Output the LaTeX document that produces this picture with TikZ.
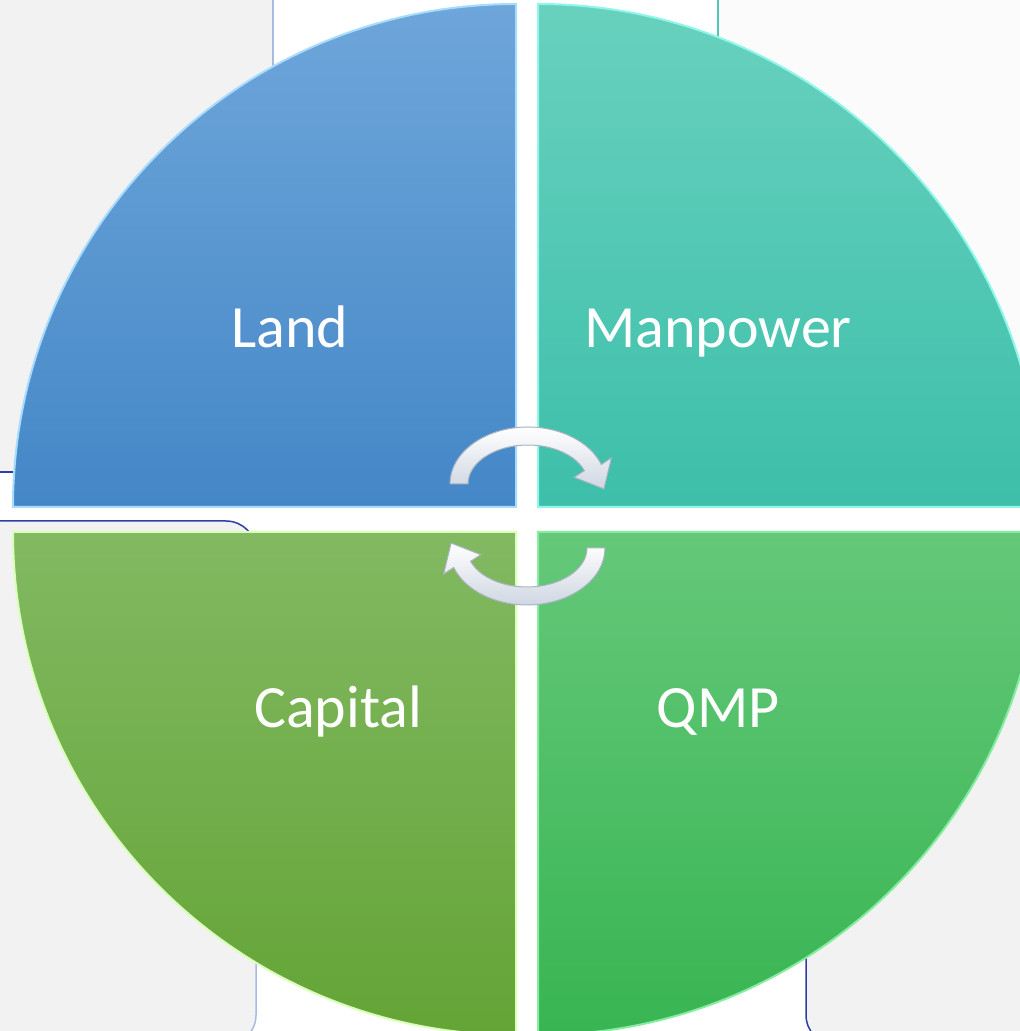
\documentclass[tikz,border=0pt]{standalone}
\usepackage{fontspec}
\setmainfont{Carlito}
\definecolor{paper}{HTML}{F2F2F2}
\definecolor{offwhite}{HTML}{FBFBFB}
\definecolor{navyline}{HTML}{2E3EA6}
\definecolor{paleline}{HTML}{A9BCE0}
\definecolor{tealline}{HTML}{4FC9B3}
\definecolor{landtop}{HTML}{6EA6DA}
\definecolor{landbot}{HTML}{4487C7}
\definecolor{landrim}{HTML}{A8DCFF}
\definecolor{mantop}{HTML}{68D1BE}
\definecolor{manbot}{HTML}{3DBFAA}
\definecolor{manrim}{HTML}{8FF7EA}
\definecolor{captop}{HTML}{82B962}
\definecolor{capbot}{HTML}{64A436}
\definecolor{caprim}{HTML}{D9FFB8}
\definecolor{qmptop}{HTML}{65C87A}
\definecolor{qmpbot}{HTML}{38B552}
\definecolor{qmprim}{HTML}{86ECA0}
\definecolor{arrowrim}{HTML}{A9B3C1}
\definecolor{arrowgrey}{HTML}{CFD7E2}
\tikzset{quarter/.style={line width=2pt},
  quartertext/.style={text=white, anchor=base, font=\fontsize{60}{72}\selectfont},
  edge/.style={line width=1.5pt},
  turnarrow/.pic={
    \shadedraw[top color=white, bottom color=arrowgrey, draw=arrowrim, line width=1pt]
      (0:78 and 57) arc[start angle=0, end angle=-160, x radius=78, y radius=57]
      -- (-83.4,-26.1) -- (-75.9,4.9) -- (-46.2,-6.7)
      -- (-160:60 and 39) arc[start angle=-160, end angle=0, x radius=60, y radius=39] -- cycle;
  }}
\begin{document}
\begin{tikzpicture}[x=1pt, y=1pt]
		\useasboundingbox (0,0) rectangle (1020,1031);
		\clip (0,0) rectangle (1020,1031);
		\fill[white] (0,0) rectangle (1020,1031);
		\fill[offwhite] (718,600) rectangle (1040,1045);
		\draw[edge, tealline] (718,1045) -- (718,900);
		\fill[paper] (-20,559) rectangle (273,1045);
		\draw[edge, paleline] (273,1045) -- (273,559);
		\draw[edge, navyline] (-20,559) -- (273,559);
		\fill[paper, rounded corners=30] (-20,510) -- (256,510) -- (256,-14) -- (-20,-14) -- cycle;
		\draw[edge, navyline] (-20,510) -- (226,510) arc[start angle=90, end angle=0, radius=30] -- (256,470);
		\draw[edge, paleline] (256,470) -- (256,16) arc[start angle=0, end angle=-90, radius=30];
		\fill[paper, rounded corners=30] (806,491) -- (1040,491) -- (1040,-14) -- (806,-14) -- cycle;
		\draw[edge, navyline] (806,491) -- (806,16) arc[start angle=180, end angle=270, radius=30];
		\shadedraw[quarter, top color=landtop, bottom color=landbot, draw=landrim]
			(516,524) -- (13,524) arc[start angle=180, end angle=90, radius=503] -- cycle;
		\shadedraw[quarter, top color=mantop, bottom color=manbot, draw=manrim]
			(538,524) -- (1041,524) arc[start angle=0, end angle=90, radius=503] -- cycle;
		\shadedraw[quarter, top color=captop, bottom color=capbot, draw=caprim]
			(516,499) -- (13,499) arc[start angle=180, end angle=270, radius=503] -- cycle;
		\shadedraw[quarter, top color=qmptop, bottom color=qmpbot, draw=qmprim]
			(538,499) -- (1041,499) arc[start angle=0, end angle=-90, radius=503] -- cycle;
		\node[quartertext] (land) at (290,683) {Land};
		\node[quartertext] (manpower) at (718,683) {Manpower};
		\node[quartertext] (capital) at (338,303) {Capital};
		\node[quartertext] (qmp) at (718,303) {QMP};
		\pic[rotate=180] at (528,547) {turnarrow};
		\pic at (527,483) {turnarrow};
		\end{tikzpicture}
\end{document}
